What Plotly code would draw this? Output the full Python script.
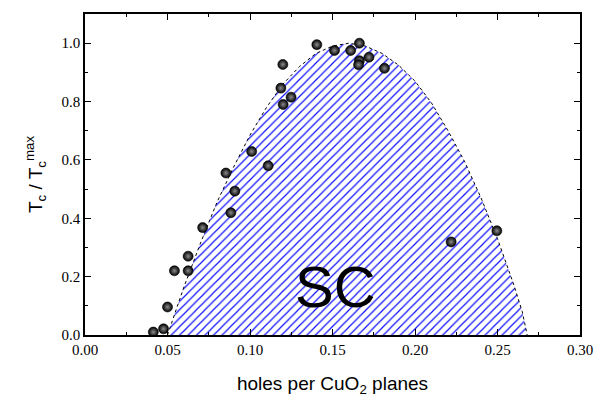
import plotly.graph_objects as go

# measured data points (holes per CuO2 plane, Tc/Tcmax)
pts_x = [0.1405, 0.1512, 0.1610, 0.1663, 0.1663, 0.1658, 0.1721, 0.1815,
         0.1199, 0.1187, 0.1249, 0.1201, 0.1010, 0.1110, 0.0854, 0.0908,
         0.0884, 0.0713, 0.0625, 0.0542, 0.0625, 0.0500, 0.0476, 0.0414,
         0.2219, 0.2496]
pts_y = [0.995, 0.975, 0.975, 1.000, 0.940, 0.926, 0.952, 0.914,
         0.927, 0.846, 0.815, 0.790, 0.629, 0.580, 0.555, 0.493,
         0.419, 0.368, 0.270, 0.220, 0.220, 0.096, 0.021, 0.010,
         0.319, 0.357]

# superconducting dome outline
dome_x = [0.050, 0.055, 0.060, 0.070, 0.080, 0.090, 0.100, 0.110, 0.120, 0.130,
          0.140, 0.150, 0.160, 0.170, 0.180, 0.190, 0.200, 0.210, 0.220, 0.230,
          0.240, 0.250, 0.260, 0.265, 0.268]
dome_y = [0.000, 0.080, 0.165, 0.315, 0.455, 0.575, 0.685, 0.780, 0.860, 0.920,
          0.965, 0.990, 1.000, 0.990, 0.965, 0.925, 0.870, 0.795, 0.700, 0.595,
          0.470, 0.330, 0.170, 0.080, 0.000]

x_ticks = [0.00, 0.05, 0.10, 0.15, 0.20, 0.25, 0.30]
y_ticks = [0.0, 0.2, 0.4, 0.6, 0.8, 1.0]

SERIF = "Liberation Serif"
SANS = "Liberation Sans"

fig = go.Figure()
fig.add_trace(go.Scatter(
    x=dome_x, y=dome_y, mode="lines",
    line=dict(color="black", width=1, dash="dot"),
    fill="tozeroy", fillcolor="white",
    fillpattern=dict(shape="/", fgcolor="#1010ff", bgcolor="white",
                     fgopacity=1, size=6, solidity=0.2),
    hoverinfo="skip", showlegend=False))
fig.add_trace(go.Scatter(
    x=pts_x, y=pts_y, mode="markers",
    marker=dict(size=10, color="black",
                gradient=dict(type="radial", color="#8c8c8c"),
                line=dict(width=0.6, color="black")),
    showlegend=False))

fig.add_annotation(x=0.152, y=0.166, text="SC", showarrow=False,
                   font=dict(family=SANS, size=58, color="black"))

axis_common = dict(showline=True, linecolor="black", linewidth=1.6, mirror="ticks",
                   ticks="inside", ticklen=6, tickwidth=1.3, tickcolor="black",
                   showgrid=False, zeroline=False,
                   tickfont=dict(family=SERIF, size=15, color="black"))

fig.update_xaxes(range=[0, 0.30], tickvals=x_ticks, tickformat=".2f",
                 minor=dict(dtick=0.025, tick0=0, ticks="inside", ticklen=3,
                            tickwidth=1.2, tickcolor="black", showgrid=False),
                 title=dict(text="holes per CuO<sub>2</sub> planes", standoff=20,
                            font=dict(family=SANS, size=19, color="black")),
                 **axis_common)
fig.update_yaxes(range=[0, 1.1], tickvals=y_ticks, tickformat=".1f",
                 minor=dict(dtick=0.1, tick0=0, ticks="inside", ticklen=3,
                            tickwidth=1.2, tickcolor="black", showgrid=False),
                 title=dict(text="T<sub>c</sub> / T<sub>c</sub><sup>max</sup>", standoff=14,
                            font=dict(family=SANS, size=19, color="black")),
                 **axis_common)

fig.update_layout(width=605, height=403, margin=dict(l=85, r=22, t=13, b=65),
                  plot_bgcolor="white", paper_bgcolor="white")
fig.write_html("out.html", config={"displayModeBar": False},
               post_script="document.body.style.margin='0';document.body.style.overflow='hidden';")
